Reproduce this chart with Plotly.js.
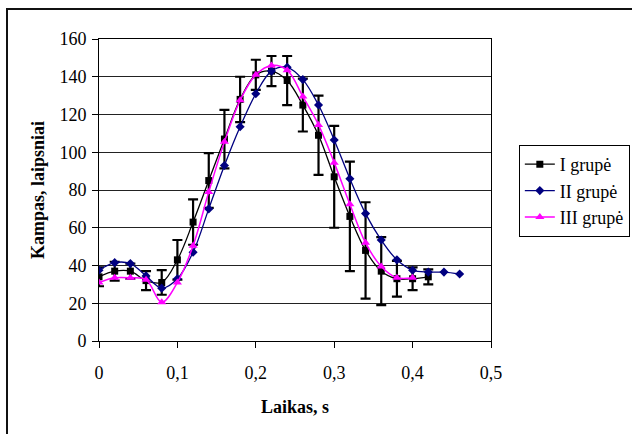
<!DOCTYPE html>
<html>
<head>
<meta charset="utf-8">
<script src="https://cdn.plot.ly/plotly-3.0.1.min.js"></script>
<style>
  html, body { margin: 0; padding: 0; background: #fff; }
  #wrap { position: relative; width: 632px; height: 434px; overflow: hidden; }
  #chart { width: 632px; height: 434px; }
  #frame { position: absolute; left: 6px; top: 8px; width: 700px; height: 500px;
           border: 2px solid #111; pointer-events: none; }
</style>
</head>
<body>
<div id="wrap">
  <div id="chart"></div>
  <div id="frame"></div>
</div>
<script>
// Time (s)
const timeI   = [0,0.02,0.04,0.06,0.08,0.10,0.12,0.14,0.16,0.18,0.20,0.22,0.24,0.26,0.28,0.30,0.32,0.34,0.36,0.38,0.40,0.42];
const timeII  = [0,0.02,0.04,0.06,0.08,0.10,0.12,0.14,0.16,0.18,0.20,0.22,0.24,0.26,0.28,0.30,0.32,0.34,0.36,0.38,0.40,0.42,0.44,0.46];
const timeIII = [0,0.02,0.04,0.06,0.08,0.10,0.12,0.14,0.16,0.18,0.20,0.22,0.24,0.26,0.28,0.30,0.32,0.34,0.36,0.38,0.40];

// Angle (degrees)
const angleI   = [34,37,37,32,31,43,63,85,107,128,141,143,138,125,109,87,66,48,37,33,33,34];
const errI     = [5,5,4,5,6.5,10.5,12,14.5,15.5,12,8,8,13,14,21,27,29,25.5,18,9.5,6,4];
const angleII  = [37.5,41.5,41,34.5,28,33,47,70,93,113.5,131,143,145,138.5,125,106.5,86,67.5,53.5,43,37.5,36.5,36.5,35.5];
const angleIII = [31,33.5,33.5,32.5,20.5,31,50.5,79,105.5,127.5,141,146,143.5,129.5,114.5,94.5,72.5,52,39.5,33.5,33.5];

const names = ["I grupė", "II grupė", "III grupė"];
const serif = "Liberation Serif";

const traces = [
  {
    x: timeI, y: angleI, name: names[0], type: 'scatter', mode: 'lines+markers',
    line: {color: '#000000', width: 1.3, shape: 'spline', smoothing: 1},
    marker: {symbol: 'square', size: 7, color: '#000000'},
    error_y: {type: 'data', array: errI, visible: true, color: '#000000', thickness: 2.2, width: 5}
  },
  {
    x: timeII, y: angleII, name: names[1], type: 'scatter', mode: 'lines+markers',
    line: {color: '#000080', width: 1.3, shape: 'spline', smoothing: 1},
    marker: {symbol: 'diamond', size: 7, color: '#000080'}
  },
  {
    x: timeIII, y: angleIII, name: names[2], type: 'scatter', mode: 'lines+markers',
    line: {color: '#FF00FF', width: 1.5, shape: 'spline', smoothing: 1},
    marker: {symbol: 'triangle-up', size: 8, color: '#FF00FF'}
  }
];

const layout = {
  width: 632, height: 434,
  margin: {l: 99, r: 141, t: 39, b: 93, autoexpand: false},
  paper_bgcolor: '#ffffff', plot_bgcolor: '#ffffff',
  separators: ', ',
  font: {family: serif, size: 18, color: '#000'},
  showlegend: true,
  legend: {
    x: 1.071, xanchor: 'left', y: 0.649, yanchor: 'top',
    bordercolor: '#000', borderwidth: 1, bgcolor: '#fff',
    itemwidth: 30,
    font: {family: serif, size: 18, color: '#000'}
  },
  xaxis: {
    range: [0, 0.5], dtick: 0.1, tick0: 0,
    showgrid: false, zeroline: false,
    showline: true, linecolor: '#000', linewidth: 1, mirror: true,
    ticks: 'outside', ticklen: 6, tickcolor: '#000', ticklabelstandoff: 9,
    tickfont: {family: serif, size: 18, color: '#000'},
    title: {text: '<b>Laikas, s</b>', font: {family: serif, size: 18, color: '#000'}, standoff: 18}
  },
  yaxis: {
    range: [0, 160], dtick: 20, tick0: 0,
    showgrid: true, gridcolor: '#222', gridwidth: 1, zeroline: false,
    showline: true, linecolor: '#000', linewidth: 1, mirror: true,
    ticks: 'outside', ticklen: 6, tickcolor: '#000', ticklabelstandoff: 2,
    tickfont: {family: serif, size: 18, color: '#000'},
    title: {text: '<b>Kampas, laipsniai</b>', font: {family: serif, size: 18, color: '#000'}, standoff: 10}
  }
};

Plotly.newPlot('chart', traces, layout, {staticPlot: true, displayModeBar: false});
</script>
</body>
</html>
